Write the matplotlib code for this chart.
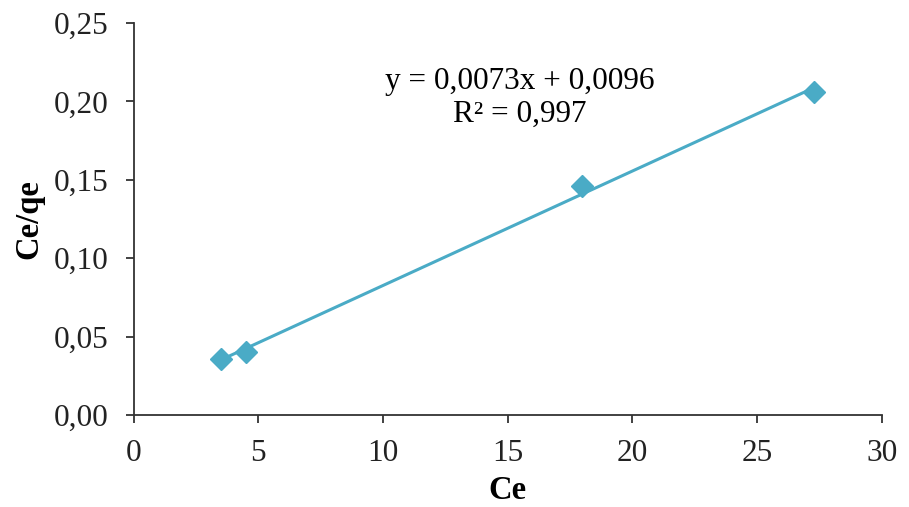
import numpy as np
import matplotlib.pyplot as plt
from matplotlib.ticker import FuncFormatter

# data
ce = [3.5, 4.5, 18.0, 27.3]
ce_qe = [0.036, 0.040, 0.146, 0.206]
slope = 0.0073
intercept = 0.0096
r2 = 0.997

COLOR = '#4aabc6'

plt.rcParams['font.family'] = ['Liberation Serif', 'DejaVu Serif']

fig = plt.figure(figsize=(9.09, 5.07), dpi=100)
ax = fig.add_axes([0.147, 0.1815, 0.823, 0.773])

x_fit = np.array([min(ce), max(ce)])
ax.plot(x_fit, slope * x_fit + intercept, color=COLOR, lw=2.2, zorder=2)
ax.plot(ce, ce_qe, linestyle='none', marker='D', markersize=11,
		color=COLOR, zorder=3)

ax.text(15.5, 0.2022,
		'y = 0,0073x + 0,0096\nR² = 0,997',
		ha='center', va='center', fontsize=22.5, linespacing=1.15)

ax.set_xlim(0, 30)
ax.set_ylim(0, 0.25)
ax.set_xticks(np.arange(0, 31, 5))
ax.set_yticks(np.arange(0, 0.26, 0.05))
ax.yaxis.set_major_formatter(FuncFormatter(lambda v, p: f'{v:.2f}'.replace('.', ',')))

for s in ['top', 'right']:
	ax.spines[s].set_visible(False)
for s in ['left', 'bottom']:
	ax.spines[s].set_linewidth(1.3)
	ax.spines[s].set_color('#333333')

ax.tick_params(direction='out', length=6, width=1.3, colors='#333333',
			   labelsize=22.5, labelcolor='#222222')
ax.tick_params(axis='y', pad=12)
ax.tick_params(axis='x', pad=11)

ax.set_xlabel('Ce', fontsize=23.5, fontweight='bold', labelpad=5)
ax.set_ylabel('Ce/qe', fontsize=23.5, fontweight='bold', labelpad=7)

fig.savefig('out.png', dpi=100)
